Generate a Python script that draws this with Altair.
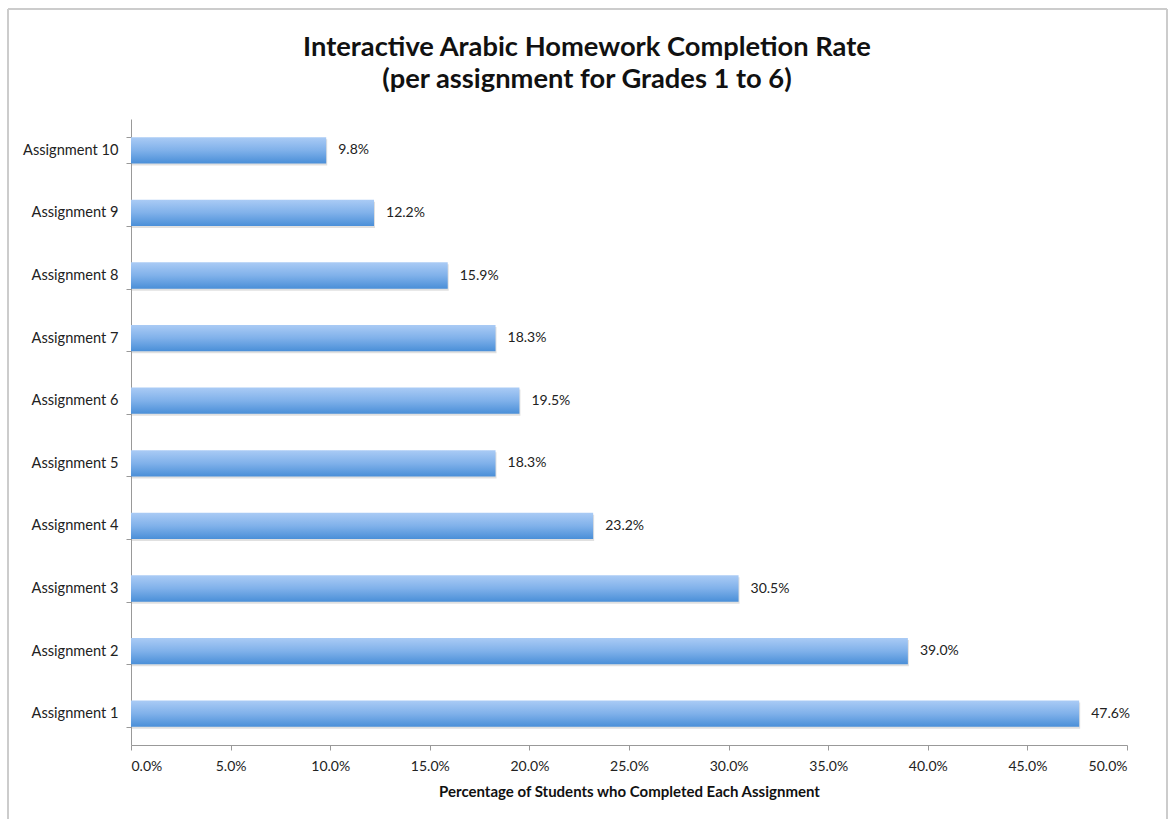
import altair as alt
import pandas as pd

assignments = ["Assignment 10", "Assignment 9", "Assignment 8", "Assignment 7", "Assignment 6",
               "Assignment 5", "Assignment 4", "Assignment 3", "Assignment 2", "Assignment 1"]
values = [9.8, 12.2, 15.9, 18.3, 19.5, 18.3, 23.2, 30.5, 39.0, 47.6]
x_ticks = [0, 5, 10, 15, 20, 25, 30, 35, 40, 45, 50]
title_lines = ["Interactive Arabic Homework Completion Rate", "(per assignment for Grades 1 to 6)"]

df = pd.DataFrame({"assignment": assignments, "pct": [v / 100 for v in values]})
df["label"] = [f"{v:.1f}%" for v in values]

FONT = "Lato"
W, H = 996, 626

y_enc = alt.Y("assignment:N", sort=assignments,
              scale=alt.Scale(paddingInner=0.58, paddingOuter=0.29),
              axis=alt.Axis(title=None, tickBand="extent", labelFont=FONT, labelFontSize=14.6,
                            labelColor="#222", labelPadding=8, tickSize=5, tickColor="#999",
                            domainColor="#999", grid=False))
x_enc = alt.X("pct:Q", scale=alt.Scale(domain=[0, 0.5], nice=False),
              axis=alt.Axis(title="Percentage of Students who Completed Each Assignment",
                            format=".1%", values=[t / 100 for t in x_ticks],
                            labelFont=FONT, labelFontSize=14, labelColor="#222", labelPadding=9,
                            titleFont=FONT, titleFontSize=15, titleFontWeight="bold",
                            titleColor="#111", titlePadding=11,
                            tickSize=5, tickColor="#999", domainColor="#999", grid=False))

base = alt.Chart(df)

shadow = base.mark_bar(color="#000000", opacity=0.12, yOffset=2, xOffset=1).encode(x=x_enc, y=y_enc)

bars = base.mark_bar(
    color=alt.Gradient(
        gradient="linear", x1=0, y1=0, x2=0, y2=1,
        stops=[alt.GradientStop(offset=0, color="#aacbf5"),
               alt.GradientStop(offset=0.5, color="#80b1ea"),
               alt.GradientStop(offset=1, color="#4a8fd8")]
    )
).encode(x=x_enc, y=y_enc)

labels = base.mark_text(align="left", baseline="middle", dx=12, font=FONT, fontSize=14,
                        color="#222").encode(x=x_enc, y=y_enc, text="label:N")

one = alt.Chart(df.head(1))
title1 = one.mark_text(align="center", baseline="middle", font=FONT, fontSize=27.3,
                       fontWeight="bold", color="#111").encode(
    x=alt.value(456), y=alt.value(-71), text=alt.value(title_lines[0]))
title2 = one.mark_text(align="center", baseline="middle", font=FONT, fontSize=27.3,
                       fontWeight="bold", color="#111").encode(
    x=alt.value(456), y=alt.value(-39), text=alt.value(title_lines[1]))

border_left = one.mark_rule(color="#cccccc", strokeWidth=2, clip=False).encode(
    x=alt.value(-123), y=alt.value(-110), y2=alt.value(H + 80))
border_top = one.mark_rule(color="#cccccc", strokeWidth=2, clip=False).encode(
    x=alt.value(-123), x2=alt.value(1036), y=alt.value(-110))
border_right = one.mark_rule(color="#cccccc", strokeWidth=2, clip=False).encode(
    x=alt.value(1036), y=alt.value(-110), y2=alt.value(H + 80))

chart = alt.layer(shadow, bars, labels, title1, title2,
                  border_left, border_top, border_right).properties(
    width=W, height=H,
    background="white",
    autosize=alt.AutoSizeParams(type="none"),
    padding={"left": 131, "top": 119, "right": 42, "bottom": 74},
).configure_view(stroke="transparent", strokeWidth=0)

chart.save("out.html", embed_options={"renderer": "svg", "actions": False})
